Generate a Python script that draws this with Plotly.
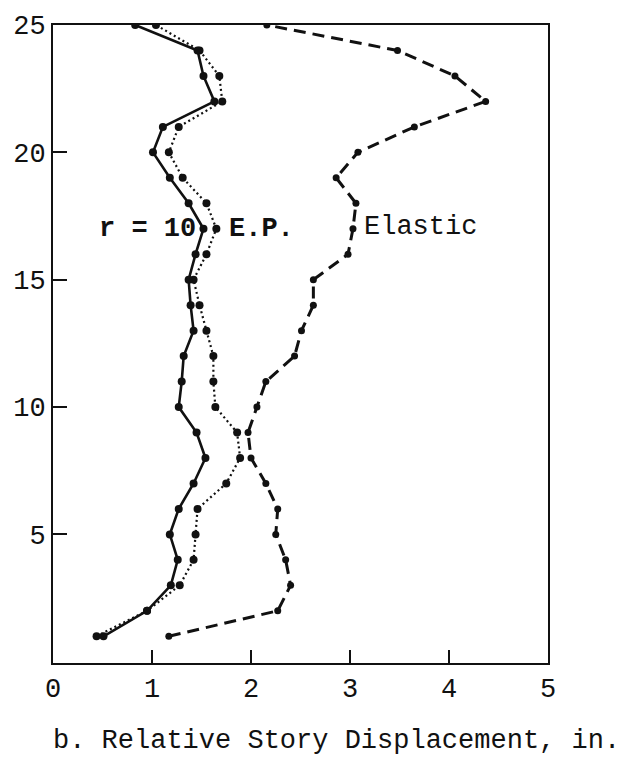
import plotly.graph_objects as go

# Story numbers (floor levels 1..25)
stories = list(range(1, 26))

# Relative story displacement, in. — elasto-plastic, r = 10 (solid)
ep_solid = [0.51, 0.95, 1.19, 1.26, 1.18, 1.27, 1.42, 1.54, 1.45, 1.27,
            1.30, 1.32, 1.42, 1.39, 1.37, 1.44, 1.52, 1.37, 1.18, 1.01,
            1.11, 1.63, 1.52, 1.46, 0.83]

# Relative story displacement, in. — elasto-plastic companion run (dotted)
ep_dotted = [0.44, 0.95, 1.28, 1.42, 1.44, 1.46, 1.75, 1.89, 1.86, 1.64,
             1.62, 1.62, 1.55, 1.48, 1.42, 1.55, 1.65, 1.55, 1.31, 1.17,
             1.27, 1.71, 1.68, 1.48, 1.04]

# Relative story displacement, in. — elastic response (dashed)
elastic = [1.17, 2.27, 2.40, 2.35, 2.25, 2.27, 2.15, 2.00, 1.97, 2.06,
           2.15, 2.44, 2.51, 2.63, 2.63, 2.98, 3.03, 3.06, 2.86, 3.08,
           3.65, 4.37, 4.06, 3.48, 2.16]

x_ticks = [0, 1, 2, 3, 4, 5]
y_ticks = [5, 10, 15, 20, 25]

FONT = "Liberation Mono, Courier New, monospace"
INK = "#111111"

fig = go.Figure()

fig.add_trace(go.Scatter(
    x=elastic, y=stories, mode="lines+markers",
    line=dict(color=INK, width=3, dash="12px,7px"),
    marker=dict(color=INK, size=7),
    showlegend=False, hoverinfo="x+y",
))
fig.add_trace(go.Scatter(
    x=ep_dotted, y=stories, mode="lines+markers",
    line=dict(color=INK, width=2.2, dash="2px,3px"),
    marker=dict(color=INK, size=8),
    showlegend=False, hoverinfo="x+y",
))
fig.add_trace(go.Scatter(
    x=ep_solid, y=stories, mode="lines+markers",
    line=dict(color=INK, width=2.6),
    marker=dict(color=INK, size=8),
    showlegend=False, hoverinfo="x+y",
))

# Curve labels
fig.add_annotation(x=0.44, y=17, xref="x", yref="y", text="<b>r = 10</b>",
                   showarrow=False, xanchor="left", yanchor="middle",
                   font=dict(family=FONT, size=27, color=INK))
fig.add_annotation(x=1.76, y=17, xref="x", yref="y", text="<b>E.P.</b>",
                   showarrow=False, xanchor="left", yanchor="middle",
                   font=dict(family=FONT, size=27, color=INK))
fig.add_annotation(x=3.12, y=17.05, xref="x", yref="y", text="Elastic",
                   showarrow=False, xanchor="left", yanchor="middle",
                   font=dict(family=FONT, size=27, color=INK))

# Axis caption
fig.add_annotation(x=0.572, y=-0.122, xref="paper", yref="paper",
                   text="b. Relative Story Displacement, in.",
                   showarrow=False, xanchor="center", yanchor="middle",
                   font=dict(family=FONT, size=27, color=INK))

fig.update_xaxes(
    range=[0, 5], tickvals=x_ticks, ticktext=[str(v) for v in x_ticks],
    ticks="inside", ticklen=13, tickwidth=2, tickcolor=INK,
    showline=True, linewidth=2, linecolor=INK, mirror=True,
    showgrid=False, zeroline=False,
    tickfont=dict(family=FONT, size=27, color=INK),
)
fig.update_yaxes(
    range=[-0.05, 25], tickvals=y_ticks, ticktext=[str(v) for v in y_ticks],
    ticks="inside", ticklen=14, tickwidth=2, tickcolor=INK,
    showline=True, linewidth=2, linecolor=INK, mirror=True,
    showgrid=False, zeroline=False,
    tickfont=dict(family=FONT, size=27, color=INK),
)

fig.update_layout(
    width=633, height=762,
    margin=dict(l=53, r=85, t=16, b=99),
    paper_bgcolor="white", plot_bgcolor="white",
    showlegend=False,
)

fig.write_html("out.html")
